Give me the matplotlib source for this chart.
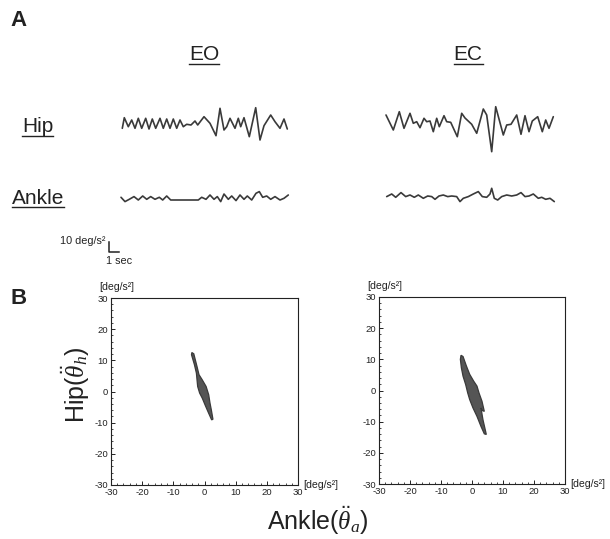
import matplotlib
matplotlib.use("Agg")
import matplotlib.pyplot as plt
from matplotlib.lines import Line2D
from matplotlib.patches import Polygon
from matplotlib.ticker import MultipleLocator

plt.rcParams['font.family'] = ['Liberation Sans', 'DejaVu Sans']
plt.rcParams['mathtext.fontset'] = 'custom'
plt.rcParams['mathtext.rm'] = 'Liberation Sans'
plt.rcParams['mathtext.it'] = 'Liberation Serif:italic'
plt.rcParams['axes.unicode_minus'] = False

# ---------------- data: panel A traces (time [s], acceleration [deg/s^2]) ----------------
eo_hip_t = [0.13, 0.33, 0.73, 1.07, 1.40, 1.73, 2.07, 2.47, 2.80, 3.13, 3.47, 3.90, 4.23, 4.57,
            4.90, 5.23, 5.57, 5.90, 6.23, 6.57, 7.00, 7.40, 7.67, 8.30, 8.90, 9.50, 9.90, 10.30,
            10.57, 10.90, 11.40, 11.73, 11.97, 12.30, 12.83, 13.47, 13.90, 14.30, 14.97, 15.40,
            15.90, 16.30, 16.63]
eo_hip_v = [-4.3, 6.3, -2.7, 4.0, -4.3, 5.7, -4.3, 5.7, -5.0, 5.0, -4.3, 5.7, -4.3, 5.0,
            -4.3, 5.0, -4.3, 4.0, -2.7, -0.3, -1.0, 3.0, -1.0, 7.3, 0.7, -11.7, 15.7, -6.0,
            -2.7, 5.7, -4.3, 5.7, -2.7, 6.3, -12.7, 16.3, -16.0, -1.7, 9.0, 2.3,
            -4.3, 5.0, -5.0]

ec_hip_t = [0.00, 0.73, 1.33, 1.80, 2.40, 2.73, 3.07, 3.40, 3.80, 4.07, 4.40, 4.73, 5.07, 5.33,
            5.80, 6.07, 6.47, 7.13, 7.57, 7.90, 8.57, 9.07, 9.73, 10.07, 10.57, 10.97, 11.73,
            12.07, 12.50, 13.07, 13.50, 13.90, 14.30, 14.63, 15.17, 15.63, 15.97, 16.30, 16.73]
ec_hip_v = [8.0, -7.0, 11.3, -5.3, 9.7, -0.3, 1.3, -4.7, 4.7, 1.3, 2.0, -8.7, 4.7, -3.7,
            7.3, 1.3, 0.7, -13.7, 9.7, 5.0, -1.3, -10.3, 14.0, 8.0, -28.7, 16.3, -12.0,
            -2.0, -1.3, 8.0, -11.3, 7.3, -8.7, 2.0, 6.3, -8.7, 3.0, -5.3, 6.3]

eo_ankle_t = [0.00, 0.40, 0.83, 1.30, 1.73, 2.17, 2.57, 2.97, 3.40, 3.83, 4.17, 4.57, 4.97, 5.40,
              7.73, 8.07, 8.50, 8.90, 9.30, 9.63, 9.97, 10.30, 10.73, 11.07, 11.50, 11.90, 12.30,
              12.63, 13.07, 13.50, 13.83, 14.17, 14.57, 14.97, 15.40, 15.90, 16.30, 16.73]
eo_ankle_v = [1.0, -3.3, -1.0, 1.7, -1.7, 2.3, -1.0, 1.7, -1.0, 1.0, -1.7, 2.3, -1.7, -1.7,
              -1.7, 1.0, -1.0, 3.3, -1.0, 1.7, -3.3, 4.3, -1.0, 2.3, -2.3, 3.3, -1.0,
              2.3, -1.7, 5.0, 6.7, 1.0, 2.3, -1.0, 1.7, -1.7, 0.0, 3.3]

ec_ankle_t = [0.07, 0.57, 0.97, 1.50, 1.97, 2.40, 2.83, 3.23, 3.73, 4.17, 4.57, 4.90, 5.30, 5.73,
              6.17, 6.57, 7.07, 7.40, 7.73, 8.23, 8.73, 9.23, 9.63, 10.07, 10.40, 10.57, 10.83,
              11.17, 11.57, 12.07, 12.57, 13.07, 13.50, 13.90, 14.30, 14.73, 15.23, 15.57,
              15.97, 16.40, 16.83]
ec_ankle_v = [0.7, 3.3, 0.0, 4.7, 0.7, 2.3, 0.0, 2.3, -1.0, 1.3, 0.7, -2.0, 1.3, 2.3,
              0.7, 1.3, 0.7, -4.3, -1.0, 0.7, 3.3, 5.7, 0.7, 0.0, 3.3, 9.0, -1.0,
              -2.7, 0.7, 2.3, 1.3, 2.3, 4.7, 0.7, 1.3, 3.3, -1.0, 0.0,
              -2.0, -1.0, -4.3]

# ---------------- data: panel B outlines (ankle, hip) [deg/s^2] ----------------
eo_ankle_outline = [-4.06, -3.44, -2.40, -1.77, -0.73, 0.52, 1.35, 1.77, 2.19, 2.71, 2.29, 1.35,
                    0.31, -0.73, -1.56, -2.19, -2.40, -2.60, -3.23, -4.17]
eo_hip_outline = [12.5, 12.1, 8.0, 5.4, 3.75, 1.6, -1.07, -3.75, -5.9, -8.9, -9.1, -7.0,
                  -4.6, -2.1, -0.5, 1.6, 3.75, 5.9, 8.6, 11.8]
ec_ankle_outline = [-3.54, -2.89, -1.82, -0.75, 0.54, 1.61, 2.25, 3.22, 3.97, 3.32, 2.89, 3.54,
                    4.39, 4.61, 3.97, 2.89, 1.61, 0.32, -0.75, -1.39, -2.04, -2.89, -3.43, -3.75]
ec_hip_outline = [11.3, 10.9, 7.9, 5.2, 3.0, 1.4, -0.75, -3.45, -6.7, -6.4, -5.6, -9.4,
                  -13.1, -14.1, -13.9, -11.5, -8.3, -5.6, -2.9, -0.75, 1.9, 4.6, 7.3, 10.0]

axis_ticks = [-30, -20, -10, 0, 10, 20, 30]

W, H = 610, 539
fig = plt.figure(figsize=(W / 100, H / 100), dpi=100)
ink = '#222222'

# ---------------- panel A ----------------
# axes spanning top part: 10 px per second, 1 px per deg/s^2
topA = 290
axA = fig.add_axes([0, (H - topA) / H, 1, topA / H])
axA.set_xlim(0, W / 10)
axA.set_ylim(0, topA)
axA.axis('off')

trace_col = '#3a3a3a'
traces = [
    (eo_hip_t, eo_hip_v, 12.1, topA - 124),
    (ec_hip_t, ec_hip_v, 38.6, topA - 123),
    (eo_ankle_t, eo_ankle_v, 12.1, topA - 198.3),
    (ec_ankle_t, ec_ankle_v, 38.6, topA - 197.3),
]
for t, v, t0, y0 in traces:
    axA.plot([t0 + ti for ti in t], [y0 + vi for vi in v], color=trace_col, lw=1.2,
             solid_joinstyle='round', solid_capstyle='round')

# scale bar: 10 deg/s^2 and 1 sec
sb_x, sb_y = 10.9, topA - 252
axA.plot([sb_x, sb_x, sb_x + 1.0], [sb_y + 10, sb_y, sb_y], color=ink, lw=1.1)
fig.text(105 / W, 1 - 241 / H, '10 deg/s²', ha='right', va='center', fontsize=7.8, color=ink)
fig.text(119 / W, 1 - 261 / H, '1 sec', ha='center', va='center', fontsize=7.8, color=ink)

fig.text(10 / W, 1 - 20 / H, 'A', fontsize=16, fontweight='bold', ha='left', va='center', color=ink)
fig.text(10 / W, 1 - 298 / H, 'B', fontsize=16, fontweight='bold', ha='left', va='center', color=ink)

under_texts = []
for s, x, y, ha in [('EO', 204, 55, 'center'), ('EC', 468, 55, 'center'),
                    ('Hip', 22, 127, 'left'), ('Ankle', 12, 198, 'left')]:
    tt = fig.text(x / W, 1 - y / H, s, fontsize=15, ha=ha, va='center', color=ink)
    under_texts.append(tt)

# ---------------- panel B ----------------
def scatter_panel(rect, ax_vals, hip_vals):
    ax = fig.add_axes(rect)
    ax.add_patch(Polygon(list(zip(ax_vals, hip_vals)), closed=True, facecolor='#555555',
                         edgecolor='#3a3a3a', lw=0.9))
    ax.set_xlim(-30, 30)
    ax.set_ylim(-30, 30)
    ax.set_xticks(axis_ticks)
    ax.set_yticks(axis_ticks)
    ax.xaxis.set_minor_locator(MultipleLocator(2))
    ax.yaxis.set_minor_locator(MultipleLocator(2))
    ax.tick_params(direction='in', length=3, width=0.7, labelsize=6.8, pad=2, colors=ink)
    ax.tick_params(which='minor', direction='in', length=1.5, width=0.5)
    for sp in ax.spines.values():
        sp.set_linewidth(0.8)
        sp.set_color(ink)
    ax.text(0.03, 1.03, '[deg/s²]', transform=ax.transAxes, fontsize=7.6, ha='center', va='bottom',
            color=ink)
    ax.text(1.03, 0.0, '[deg/s²]', transform=ax.transAxes, fontsize=7.6, ha='left', va='center',
            color=ink)
    return ax

ax1 = scatter_panel([111 / W, 1 - 485 / H, 187 / W, 187 / H], eo_ankle_outline, eo_hip_outline)
ax2 = scatter_panel([379 / W, 1 - 484 / H, 186 / W, 187 / H], ec_ankle_outline, ec_hip_outline)

fig.text(76 / W, 1 - 385 / H, r'Hip$(\ddot{\theta}_h)$', rotation=90, fontsize=18,
         ha='center', va='center', color=ink)
fig.text(318 / W, 1 - 521 / H, r'Ankle$(\ddot{\theta}_a)$', fontsize=18,
         ha='center', va='center', color=ink)

# underlines for the panel-A labels
fig.canvas.draw()
r = fig.canvas.get_renderer()
for tt in under_texts:
    bb = tt.get_window_extent(r)
    yl = bb.y0 + 1
    fig.add_artist(Line2D([bb.x0 / W, bb.x1 / W], [yl / H, yl / H], transform=fig.transFigure,
                          color=ink, lw=1.0))

fig.savefig('out.png', dpi=100)
